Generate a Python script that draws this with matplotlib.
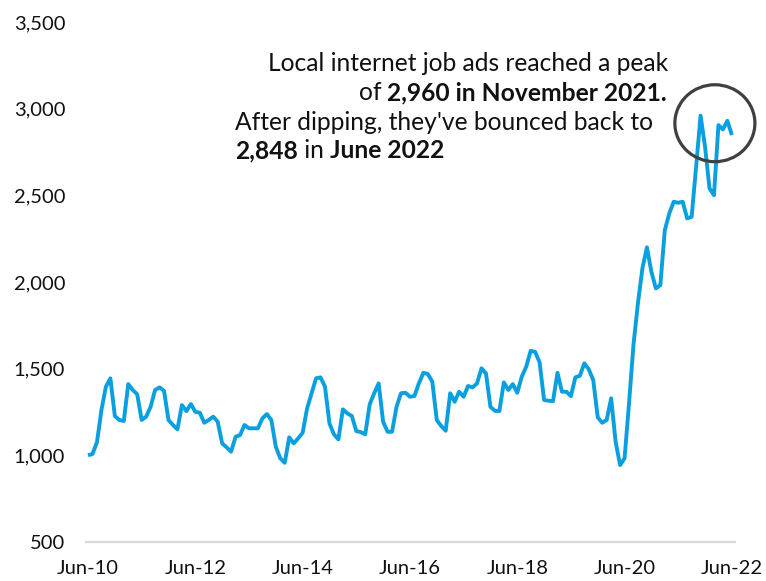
import matplotlib
matplotlib.use("Agg")
import matplotlib.pyplot as plt
from matplotlib.patches import Ellipse
from matplotlib.transforms import IdentityTransform

# Monthly local internet job ads, June 2010 to June 2022
job_ads = [
    1000, 1008, 1075, 1261, 1396, 1444, 1227,                              # 2010 Jun-Dec
    1204, 1198, 1411, 1377, 1352, 1204, 1223, 1280, 1377, 1392, 1372, 1204,  # 2011
    1175, 1150, 1290, 1255, 1296, 1251, 1246, 1188, 1204, 1223, 1194, 1069,  # 2012
    1046, 1021, 1107, 1117, 1175, 1156, 1156, 1156, 1213, 1238, 1204, 1050,  # 2013
    983, 957, 1104, 1069, 1098, 1130, 1271, 1358, 1444, 1450, 1396, 1184,    # 2014
    1121, 1092, 1265, 1242, 1227, 1140, 1134, 1121, 1294, 1358, 1415, 1194,  # 2015
    1136, 1136, 1280, 1358, 1361, 1338, 1342, 1415, 1476, 1469, 1425, 1204,  # 2016
    1169, 1142, 1358, 1309, 1367, 1338, 1400, 1392, 1415, 1502, 1473, 1280,  # 2017
    1257, 1255, 1421, 1377, 1411, 1361, 1453, 1511, 1603, 1597, 1536, 1319,  # 2018
    1315, 1313, 1476, 1367, 1367, 1342, 1450, 1459, 1531, 1496, 1434, 1219,  # 2019
    1188, 1204, 1329, 1078, 944, 983, 1300, 1640, 1880, 2080, 2200, 2059,    # 2020
    1963, 1982, 2299, 2396, 2463, 2457, 2463, 2367, 2376, 2664, 2960, 2780,  # 2021
    2540, 2501, 2905, 2880, 2930, 2848,                                    # 2022 Jan-Jun
]
month_index = list(range(len(job_ads)))

x_tick_pos = [0, 24, 48, 72, 96, 120, 144]
x_tick_labels = ["Jun-10", "Jun-12", "Jun-14", "Jun-16", "Jun-18", "Jun-20", "Jun-22"]
y_ticks = [500, 1000, 1500, 2000, 2500, 3000, 3500]

FONT = "Lato"
BLUE = "#0A9FDF"
plt.rcParams["font.family"] = [FONT, "DejaVu Sans"]

W, H = 766, 581
fig = plt.figure(figsize=(W / 100, H / 100), dpi=100)
ax = fig.add_axes([86 / W, 1 - 542 / H, (735 - 86) / W, (542 - 22) / H])

ax.plot(month_index, job_ads, color=BLUE, lw=2.8, solid_joinstyle="round",
        solid_capstyle="butt", zorder=3)

ax.set_xlim(-0.45, 144.7)
ax.set_ylim(500, 3500)
ax.set_xticks(x_tick_pos)
ax.set_xticklabels(x_tick_labels)
ax.set_yticks(y_ticks)
ax.set_yticklabels([f"{v:,}" for v in y_ticks])
ax.tick_params(axis="both", length=0, labelsize=14.5, colors="#111111")
ax.tick_params(axis="x", pad=13)
ax.tick_params(axis="y", pad=15)
for side in ("top", "right", "left"):
    ax.spines[side].set_visible(False)
ax.spines["bottom"].set_color("#d9d9d9")
ax.spines["bottom"].set_linewidth(1.6)

# Circle around the latest peak and rebound
ax.add_patch(Ellipse((140.2, 2916), width=17.9, height=444, fill=False,
                     edgecolor="#404040", lw=2.3, clip_on=False, zorder=4))

# Annotation with mixed weights, laid out in pixel coordinates
renderer = fig.canvas.get_renderer()

# size the annotation so its first line spans 403 px
probe = fig.text(0, 0, "Local internet job ads reached a peak", fontsize=16,
                 transform=IdentityTransform())
TXT_SIZE = 16 * 403 / probe.get_window_extent(renderer).width
probe.remove()


def draw_runs(runs, x, baseline_from_top, align="left"):
    texts = []
    for s, weight in runs:
        t = fig.text(0, 0, s, fontsize=TXT_SIZE, fontweight=weight,
                     color="#111111", transform=IdentityTransform(),
                     va="baseline", ha="left")
        texts.append(t)
    widths = [t.get_window_extent(renderer).width for t in texts]
    start = x - sum(widths) if align == "right" else x
    y = H - baseline_from_top
    for t, w in zip(texts, widths):
        t.set_position((start, y))
        start += w


draw_runs([("Local internet job ads reached a peak", "normal")], 668, 71, "right")
draw_runs([("of", "normal"), (" 2,960 in November 2021.", "bold")], 667, 100, "right")
draw_runs([("After dipping, they've bounced back to", "normal")], 235, 130)
draw_runs([("2,848", "bold"), (" in", "normal"), (" June 2022", "bold")], 235, 158)

fig.savefig("out.png", dpi=100, facecolor="white")
